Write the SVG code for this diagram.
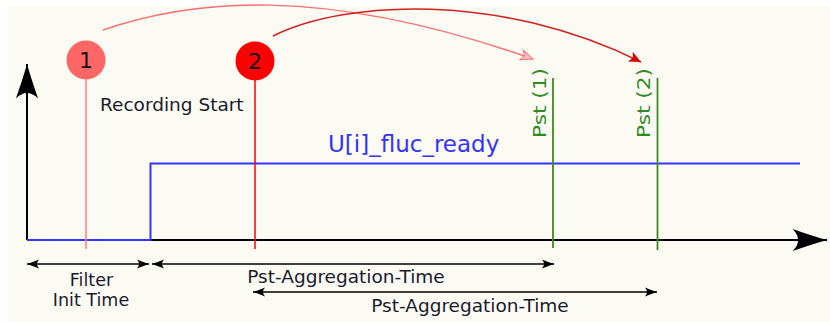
<svg xmlns="http://www.w3.org/2000/svg" width="830" height="322" viewBox="0 0 830 322">
<style>
  text { font-family: "DejaVu Sans", "Liberation Sans", sans-serif; }
  .lbl { font-size: 18.5px; fill: #1a1a2e; }
  .axis { stroke: #000; stroke-width: 2; fill: none; }
  .dim { stroke: #000; stroke-width: 1.6; fill: none; marker-start: url(#sa); marker-end: url(#sa); }
  .pst { stroke: #3f8a1e; stroke-width: 1.8; fill: none; }
  .pstt { font-size: 18.5px; fill: #2f8a1f; }
  .digit { font-size: 22px; fill: #111; text-anchor: middle; }
</style>
<defs>
  <marker id="big" markerUnits="userSpaceOnUse" markerWidth="40" markerHeight="30" viewBox="-34 -12 36 24" refX="0" refY="0" orient="auto">
    <path d="M0,0 Q-14,-4 -31,-10 Q-21,0 -31,10 Q-14,4 0,0 z" fill="#000"/>
  </marker>
  <marker id="sa" markerUnits="userSpaceOnUse" markerWidth="16" markerHeight="12" viewBox="-14 -6 16 12" refX="0" refY="0" orient="auto-start-reverse">
    <path d="M0,0 Q-5,-1.5 -12,-4.5 Q-8,0 -12,4.5 Q-5,1.5 0,0 z" fill="#000"/>
  </marker>
  <marker id="ha" markerUnits="userSpaceOnUse" markerWidth="16" markerHeight="12" viewBox="-14 -6 16 12" refX="0" refY="0" orient="auto">
    <path d="M0,0 L-12,-5 L-9,0 L-12,5 z" fill="#ffc0c0" stroke="#ff6f6f" stroke-width="1"/>
  </marker>
  <marker id="hb" markerUnits="userSpaceOnUse" markerWidth="16" markerHeight="12" viewBox="-14 -6 16 12" refX="0" refY="0" orient="auto">
    <path d="M0,0 L-12,-5.5 L-9,0 L-12,5.5 z" fill="#d40000"/>
  </marker>
</defs>
<rect x="8" y="6" width="822" height="316" fill="#fcfbf3"/>

<g id="axes">
  <path class="axis" d="M27,240 V64" marker-end="url(#big)"/>
  <path class="axis" d="M27,240 H827" marker-end="url(#big)"/>
</g>

<g id="signal">
  <path d="M27,240 H150.5 V163.5 H800" stroke="#3535ff" stroke-width="2" fill="none"/>
  <text x="328" y="152" style="font-size:23px;fill:#3333ff">U[i]_fluc_ready</text>
</g>

<g id="connectors">
  <path d="M103,30 C190,0 320,-16 533,59" stroke="#ff6f6f" stroke-width="1.5" fill="none" marker-end="url(#ha)"/>
  <path d="M273,36 C345,0 500,-8 641,62" stroke="#d42020" stroke-width="1.5" fill="none" marker-end="url(#hb)"/>
</g>

<g id="node1">
  <line x1="86" y1="79" x2="86" y2="249" stroke="#ff8080" stroke-width="1.5"/>
  <circle cx="86" cy="60" r="19.5" fill="#ff6666"/>
  <text class="digit" x="86" y="68">1</text>
</g>

<g id="node2">
  <line x1="255" y1="79" x2="255" y2="249" stroke="#ff0000" stroke-width="1.5"/>
  <circle cx="255" cy="61" r="19.5" fill="#ff0000"/>
  <text class="digit" x="255" y="69">2</text>
  <text class="lbl" x="100" y="111">Recording Start</text>
</g>

<g id="pst1">
  <line class="pst" x1="553" y1="78" x2="553" y2="248"/>
  <text class="pstt" transform="translate(545.5,138) rotate(-90)" textLength="70" lengthAdjust="spacingAndGlyphs">Pst (1)</text>
</g>

<g id="pst2">
  <line class="pst" x1="657.5" y1="78" x2="657.5" y2="250"/>
  <text class="pstt" transform="translate(649.5,138) rotate(-90)" textLength="70" lengthAdjust="spacingAndGlyphs">Pst (2)</text>
</g>

<g id="dimensions">
  <path class="dim" d="M27,264 H149"/>
  <path class="dim" d="M152,264 H554"/>
  <path class="dim" d="M253,292 H657"/>
  <text class="lbl" x="91.5" y="285.5" text-anchor="middle" style="font-size:17.5px">Filter</text>
  <text class="lbl" x="91" y="306" text-anchor="middle" style="font-size:17.5px">Init Time</text>
  <text class="lbl" x="346" y="282.5" text-anchor="middle">Pst-Aggregation-Time</text>
  <text class="lbl" x="470" y="312" text-anchor="middle">Pst-Aggregation-Time</text>
</g>
</svg>
